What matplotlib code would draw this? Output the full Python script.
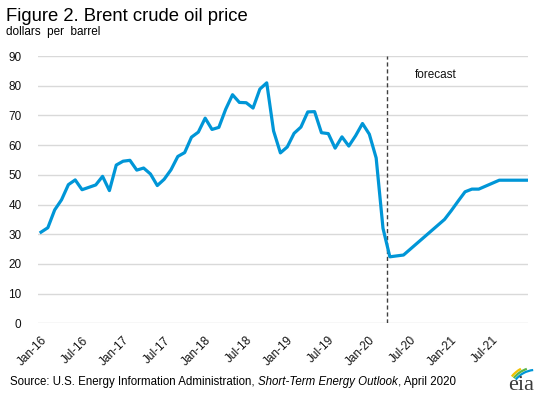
import matplotlib
matplotlib.use("Agg")
import matplotlib.pyplot as plt
from matplotlib.patches import Arc
import numpy as np
import pandas as pd

plt.rcParams['font.family'] = ['Liberation Sans', 'DejaVu Sans']

# monthly Brent spot price, dollars per barrel
months = pd.date_range("2016-01-01", "2021-12-01", freq="MS")
history = [30.7, 32.2, 38.2, 41.6, 46.7, 48.3, 45.0, 45.8, 46.6, 49.5, 44.7, 53.3,
           54.6, 54.9, 51.6, 52.3, 50.3, 46.4, 48.5, 51.7, 56.2, 57.5, 62.7, 64.4,
           69.1, 65.3, 66.0, 72.1, 77.0, 74.4, 74.3, 72.5, 78.9, 81.0, 64.8, 57.4,
           59.4, 64.0, 66.1, 71.2, 71.3, 64.2, 63.9, 59.0, 62.8, 59.7, 63.2, 67.3,
           63.7, 55.7, 32.0]
forecast = [22.4, 22.7, 23.0, 25.0, 27.0, 29.0, 31.0, 33.0, 35.0,
            38.0, 41.2, 44.3, 45.2, 45.2, 46.2, 47.2, 48.2, 48.2, 48.2, 48.2, 48.2]
yticks = list(range(0, 100, 10))

prices = history + forecast
x = np.arange(len(months))
tick_idx = x[::6]
tick_labels = [months[i].strftime("%b-%y") for i in tick_idx]

fig = plt.figure(figsize=(5.5, 3.98), dpi=100)
ax = fig.add_axes([0.0696, 0.1877, 0.8904, 0.6713])

ax.plot(x, prices, color="#0096d7", lw=2.3, solid_joinstyle="round", zorder=3)
ax.axvline(len(history) - 0.4, color="#404040", lw=1, ls=(0, (3, 2)), zorder=2)
ax.text(len(history) + 3.7, 83.6, "forecast", fontsize=8.5, va="center", color="#111111")

ax.set_xlim(-0.4, 71.2)
ax.set_ylim(0, 90)
ax.set_yticks(yticks)
ax.set_xticks(tick_idx)
ax.set_xticklabels(tick_labels, rotation=45, ha="right", va="top", rotation_mode="anchor")
ax.tick_params(axis="y", length=0, pad=12, labelsize=8.5, labelcolor="#111111")
ax.tick_params(axis="x", length=0, pad=8, labelsize=8.5, labelcolor="#111111")
ax.grid(axis="y", color="#d9d9d9", lw=1)
ax.set_axisbelow(True)
for s in ax.spines.values():
    s.set_visible(False)

fig.text(0.011, 0.948, "Figure 2. Brent crude oil price", fontsize=13.3, va="baseline")
fig.text(0.01, 0.912, "dollars  per  barrel", fontsize=8.5, va="baseline")

# source line with italic publication name
t1 = fig.text(0.018, 0.025, "Source: U.S. Energy Information Administration, ", fontsize=8.3,
              va="bottom")
t2 = ax.annotate("Short-Term Energy Outlook", xy=(1, 0), xycoords=t1, fontsize=8.3,
                 style="italic", va="bottom", ha="left", annotation_clip=False)
ax.annotate(", April 2020", xy=(1, 0), xycoords=t2, fontsize=8.3, va="bottom", ha="left",
            annotation_clip=False)

# eia logo
lax = fig.add_axes([0.909, 0.0, 0.082, 0.108])
lax.set_xlim(0, 1)
lax.set_ylim(0, 1)
lax.axis("off")
lax.text(0.46, 0.19, "eia", family="Liberation Serif", fontsize=16, ha="center",
         va="baseline", color="#3a3a3a")
for r, col, t1a in [(31, "#f2c200", 118), (28.5, "#5cb648", 108), (26, "#0096d7", 96)]:
    lax.add_patch(Arc((0.80, 0.05), 2 * r / 45, 2 * r / 43, theta1=t1a, theta2=140,
                      color=col, lw=1.6))

fig.savefig("out.png", dpi=100)
